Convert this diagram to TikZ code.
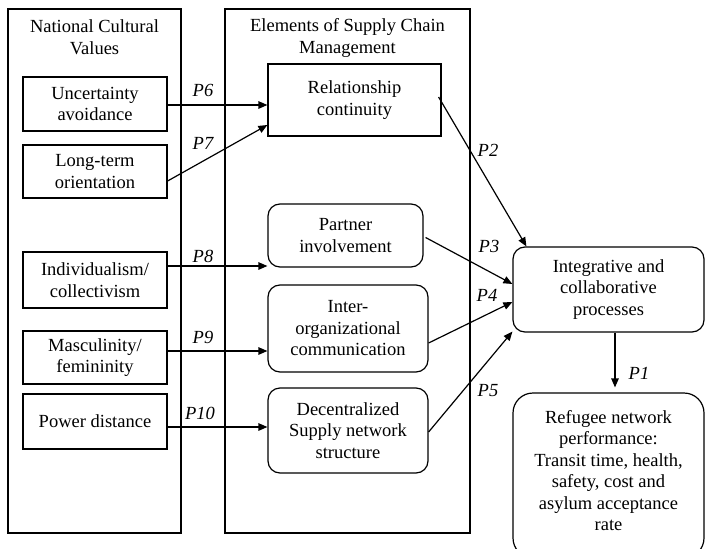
\documentclass[tikz,border=0pt]{standalone}
\usepackage{fontspec}
\setmainfont{Liberation Serif}
\usetikzlibrary{arrows.meta,calc}
\begin{document}
\begin{tikzpicture}[x=1pt,y=-1pt,
  every node/.style={font=\fontsize{18.5}{21.5}\selectfont, align=center, inner sep=0pt},
  frame/.style={draw, line width=1.2pt},
  sqbox/.style={draw, line width=1.2pt},
  rbox/.style={draw, line width=1.2pt, rounded corners=12pt},
  arr/.style={line width=1.2pt, -{Triangle[length=9pt,width=7.5pt]}},
  plab/.style={font=\fontsize{18.5}{21.5}\selectfont\itshape}
]
\useasboundingbox (0,0) rectangle (705,549);
% outer frames
\node[frame, minimum width=173pt, minimum height=524pt] (ncv) at (94.5,271) {};
\node[frame, minimum width=245pt, minimum height=524pt] (scm) at (347.5,271) {};
\node (ncvt) at (94.5,37) {National Cultural\\Values};
\node (scmt) at (347.5,38) {Elements of Supply Chain\\Management};
% left boxes
\node[sqbox, minimum width=144pt, minimum height=54pt] (ua) at (95,104) {Uncertainty\\avoidance};
\node[sqbox, minimum width=144pt, minimum height=53pt] (lto) at (95,171.5) {Long-term\\orientation};
\node[sqbox, minimum width=144pt, minimum height=56pt] (ic) at (95,280) {Individualism/\\collectivism};
\node[sqbox, minimum width=144pt, minimum height=53pt] (mf) at (95,357.5) {Masculinity/\\femininity};
\node[sqbox, minimum width=144pt, minimum height=55pt] (pd) at (95,421.5) {Power distance};
% middle boxes
\node[sqbox, minimum width=173pt, minimum height=72pt] (rc) at (354.5,100) {Relationship\\continuity};
\node[rbox, minimum width=155pt, minimum height=63pt] (pi) at (345.5,235.5) {Partner\\involvement};
\node[rbox, minimum width=160pt, minimum height=87pt] (ioc) at (348,328.5) {Inter-\\organizational\\communication};
\node[rbox, minimum width=160pt, minimum height=85pt] (dsn) at (348,430.5) {Decentralized\\Supply network\\structure};
% right boxes
\node[rbox, minimum width=191pt, minimum height=85pt] (icp) at (608.5,289.5) {Integrative and\\collaborative\\processes};
\node[rbox, rounded corners=20pt, minimum width=191pt, minimum height=165pt] (rnp) at (608.5,475.5) {};
\node (rnpt) at (608.5,470.5) {Refugee network\\performance:\\Transit time, health,\\safety, cost and\\asylum acceptance\\rate};
% arrows
\draw[arr] ([yshift=-1pt]ua.east) -- ([yshift=-5pt]rc.west);
\draw[arr] ([yshift=-9.5pt]lto.east) -- ([yshift=-25pt]rc.west);
\draw[arr] ([yshift=14pt]ic.east) -- ([yshift=-30.5pt]pi.west);
\draw[arr] ([yshift=6.5pt]mf.east) -- ([yshift=-22.5pt]ioc.west);
\draw[arr] ([yshift=-5.5pt]pd.east) -- ([yshift=3.5pt]dsn.west);
\draw[arr] ([xshift=-3pt,yshift=3pt]rc.east) -- ([xshift=14pt]icp.north west);
\draw[arr] ([xshift=2pt,yshift=-2pt]pi.east) -- ([yshift=5.5pt]icp.west);
\draw[arr] ([yshift=-14.5pt]ioc.east) -- ([yshift=-12.5pt]icp.west);
\draw[arr] ([yshift=-1.5pt]dsn.east) -- ([yshift=1pt]icp.south west);
\draw[arr, shorten >=5pt] ([xshift=6.5pt]icp.south) -- ([xshift=6.5pt]rnp.north);
% labels
\node[plab] (l6) at (203,90) {P6};
\node[plab] (l7) at (203,143) {P7};
\node[plab] (l8) at (203,256) {P8};
\node[plab] (l9) at (203,337) {P9};
\node[plab] (l10) at (200,413) {P10};
\node[plab] (l2) at (488,150) {P2};
\node[plab] (l3) at (489,246) {P3};
\node[plab] (l4) at (487,295) {P4};
\node[plab] (l5) at (488,391) {P5};
\node[plab] (l1) at (639,373) {P1};
\end{tikzpicture}
\end{document}
